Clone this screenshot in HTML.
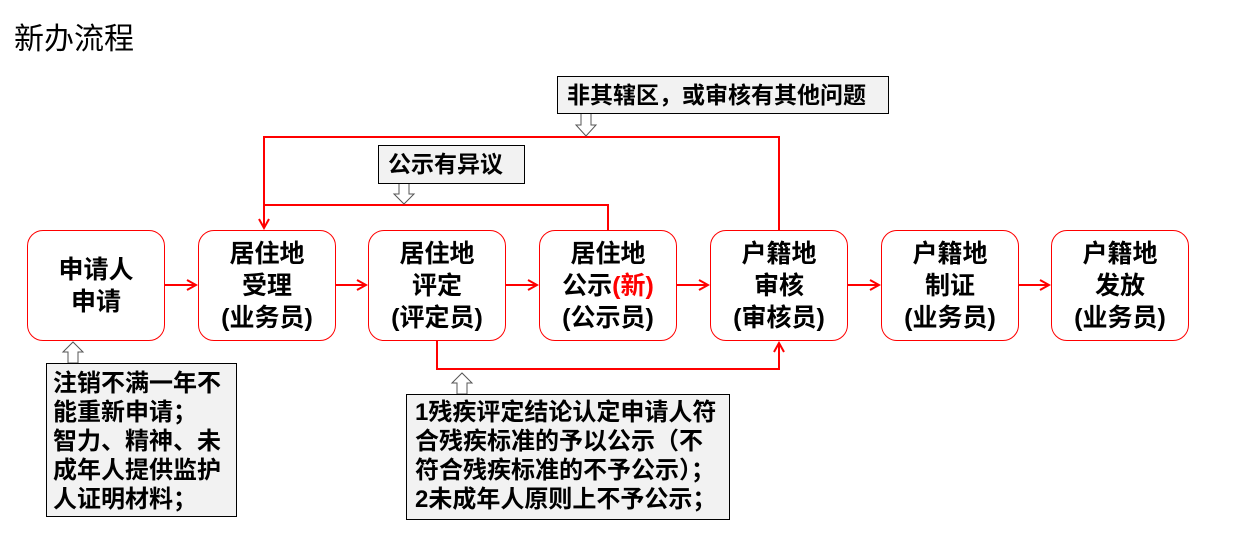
<!DOCTYPE html>
<html><head><meta charset="utf-8"><style>
body{margin:0;width:1237px;height:545px;background:#fff;position:relative;overflow:hidden;font-family:"Liberation Sans","Noto Sans CJK SC",sans-serif}
.n{position:absolute;top:230px;width:138px;height:111px;border:1px solid #f00;border-radius:16px;box-sizing:border-box;display:flex;align-items:center;justify-content:center;text-align:center;font-weight:bold;font-size:25px;line-height:32px;color:#000}
.l{position:absolute;background:#f2f2f2;border:1px solid #000;box-sizing:border-box;font-weight:bold;color:#000;white-space:nowrap}
</style></head><body>
<div style="position:absolute;left:14px;top:14px;font-size:30px">新办流程</div>
<svg width="1237" height="545" style="position:absolute;left:0;top:0">
<defs><marker id="a" markerWidth="12" markerHeight="12" refX="10" refY="6" orient="auto" markerUnits="userSpaceOnUse"><path d="M1,1 L10,6 L1,11" fill="none" stroke="#f00" stroke-width="2"/></marker></defs>
<g stroke="#f00" stroke-width="2" fill="none">
<line x1="165" y1="285" x2="196" y2="285" marker-end="url(#a)"/>
<line x1="335" y1="285" x2="366" y2="285" marker-end="url(#a)"/>
<line x1="506" y1="285" x2="537" y2="285" marker-end="url(#a)"/>
<line x1="677" y1="285" x2="708" y2="285" marker-end="url(#a)"/>
<line x1="848" y1="285" x2="879" y2="285" marker-end="url(#a)"/>
<line x1="1019" y1="285" x2="1049" y2="285" marker-end="url(#a)"/>
<polyline points="779,230 779,137 264,137 264,228" marker-end="url(#a)"/>
<polyline points="608,230 608,205 264,205"/>
<polyline points="437,341 437,369 779,369 779,343" marker-end="url(#a)"/>
</g>
<g fill="#fff" stroke="#555" stroke-width="1">
<path d="M581,113 h10 v12 h5 l-10,11 l-10,-11 h5z"/>
<path d="M399,183 h10 v11 h5 l-10,10 l-10,-10 h5z"/>
<path d="M68,363 h10 v-11 h5 l-10,-10 l-10,10 h5z"/>
<path d="M457,394 h10 v-11 h5 l-10,-10 l-10,10 h5z"/>
</g>
</svg>
<div class="n" style="left:27px"><div>申请人<br>申请</div></div>
<div class="n" style="left:198px"><div>居住地<br>受理<br>(业务员)</div></div>
<div class="n" style="left:368px"><div>居住地<br>评定<br>(评定员)</div></div>
<div class="n" style="left:539px"><div>居住地<br>公示<span style="color:#f00">(新)</span><br>(公示员)</div></div>
<div class="n" style="left:710px"><div>户籍地<br>审核<br>(审核员)</div></div>
<div class="n" style="left:881px"><div>户籍地<br>制证<br>(业务员)</div></div>
<div class="n" style="left:1051px"><div>户籍地<br>发放<br>(业务员)</div></div>
<div class="l" style="left:557px;top:76px;width:332px;height:38px;font-size:23px;line-height:36px;padding-left:9px">非其辖区，或审核有其他问题</div>
<div class="l" style="left:378px;top:145px;width:147px;height:39px;font-size:23px;line-height:37px;padding-left:9px">公示有异议</div>
<div class="l" style="left:46px;top:363px;width:191px;height:154px;font-size:24px;line-height:29px;padding:5px 0 0 6px">注销不满一年不<br>能重新申请；<br>智力、精神、未<br>成年人提供监护<br>人证明材料；</div>
<div class="l" style="left:406px;top:394px;width:324px;height:126px;font-size:24px;line-height:29px;padding:3px 0 0 8px">1残疾评定结论认定申请人符<br>合残疾标准的予以公示（不<br>符合残疾标准的不予公示）；<br>2未成年人原则上不予公示；</div>
</body></html>
